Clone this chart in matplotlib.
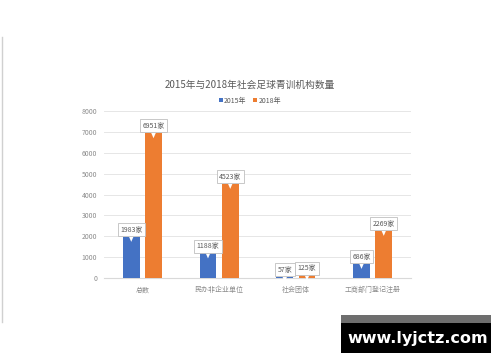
import matplotlib
matplotlib.use('Agg')
import matplotlib.pyplot as plt
import numpy as np
from matplotlib.patches import Rectangle

plt.rcParams['font.family'] = ['Noto Sans CJK SC', 'DejaVu Sans']

categories = ['总数', '民办非企业单位', '社会团体', '工商部门登记注册']
vals_2015 = [1983, 1188, 57, 686]
vals_2018 = [6951, 4523, 125, 2269]
series_names = ['2015年', '2018年']
title = '2015年与2018年社会足球青训机构数量'

blue = '#4472C4'
orange = '#ED7D31'
txt_gray = '#8C8C8C'

fig = plt.figure(figsize=(5, 3.62), dpi=100)
ax = fig.add_axes([0.208, 0.232, 0.614, 0.461])

x = np.arange(len(categories))
w = 0.22
off = 0.145
b1 = ax.bar(x - off, vals_2015, w, color=blue, label=series_names[0], zorder=3)
b2 = ax.bar(x + off, vals_2018, w, color=orange, label=series_names[1], zorder=3)

ax.set_xlim(-0.5, len(categories) - 0.5)
ax.set_ylim(0, 8000)
ax.set_yticks(range(0, 8001, 1000))
ax.yaxis.grid(True, color='#E6E6E6', linewidth=0.7, zorder=0)
for s in ['top', 'right', 'left']:
    ax.spines[s].set_visible(False)
ax.spines['bottom'].set_color('#D9D9D9')
ax.spines['bottom'].set_linewidth(0.8)
ax.tick_params(axis='both', length=0, labelsize=5, colors=txt_gray)
ax.tick_params(axis='y', pad=5)
ax.tick_params(axis='x', pad=6)
ax.set_xticks(x)
ax.set_xticklabels(categories)

# callout labels
for bars, vals in [(b1, vals_2015), (b2, vals_2018)]:
    for rect, v in zip(bars, vals):
        cx = rect.get_x() + rect.get_width() / 2
        ax.annotate(f'{v}家', xy=(cx, v - 250), xytext=(cx, v + 340),
                    ha='center', va='center', fontsize=5, color='#595959',
                    bbox=dict(boxstyle='square,pad=0.35', fc='white', ec='#BFBFBF', lw=0.6),
                    arrowprops=dict(arrowstyle='wedge,tail_width=0.7,shrink_factor=0.5',
                                    fc='white', ec='none', shrinkA=0, shrinkB=0),
                    annotation_clip=False, zorder=5)

fig.text(0.5, 0.765, title, ha='center', va='center', fontsize=7, color='#595959')
fig.legend(handles=[b1, b2], labels=series_names, loc='center', bbox_to_anchor=(0.5, 0.722),
           ncol=2, frameon=False, fontsize=5, labelcolor='#595959',
           handlelength=0.5, handleheight=0.5, handletextpad=0.2, columnspacing=1.0)

# left border line
fig.add_artist(plt.Line2D([0.003, 0.003], [1 - 37 / 362, 1 - 322 / 362], color='#D0D0D0', lw=1))

# watermark box
fig.add_artist(Rectangle((341 / 500, 1 - 323 / 362), 150 / 500, 8 / 362,
                         transform=fig.transFigure, color='#6E6E6E', lw=0))
fig.add_artist(Rectangle((341 / 500, 1 - 353 / 362), 150 / 500, 30 / 362,
                         transform=fig.transFigure, color='black', lw=0))
fig.text(418 / 500, 1 - 338 / 362, 'www.lyjctz.com', ha='center', va='center',
         fontsize=11.5, color='white', fontweight='bold', family=['DejaVu Sans'])

fig.savefig('out.png', dpi=100, facecolor='white')
